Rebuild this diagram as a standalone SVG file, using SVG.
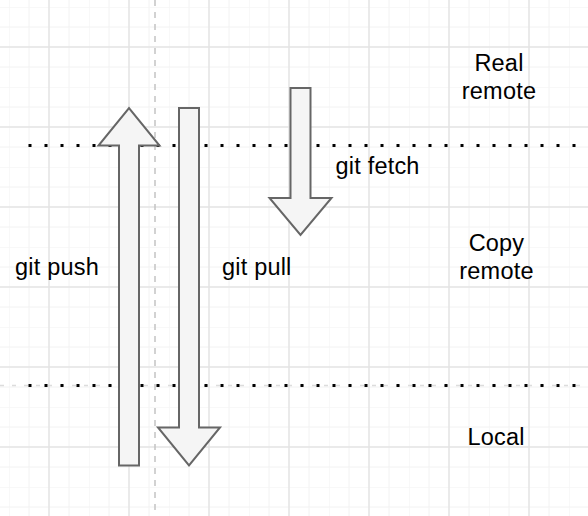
<svg xmlns="http://www.w3.org/2000/svg" width="588" height="516" viewBox="0 0 588 516">
  <style>
    .arrow { fill: #f5f5f5; stroke: #666666; stroke-width: 2; stroke-linejoin: miter; }
    .sep { stroke: #000000; stroke-width: 3; stroke-dasharray: 3 13; fill: none; }
    .lbl { font-family: "Liberation Sans", Arial, Helvetica, sans-serif; font-size: 23.5px; letter-spacing: 0.2px; fill: #000000; }
    .mid { text-anchor: middle; }
  </style>
  <defs>
    <pattern id="grid" patternUnits="userSpaceOnUse" x="9" y="7" width="80" height="80">
      <path d="M0 0V80M20 0V80M60 0V80M0 0H80M0 20H80M0 60H80" stroke="#f2f2f2" stroke-width="1" fill="none"/>
      <path d="M40 0V80M0 40H80" stroke="#e4e4e4" stroke-width="1.5" fill="none"/>
    </pattern>
  </defs>
  <rect width="588" height="516" fill="#ffffff"/>
  <rect width="588" height="516" fill="url(#grid)"/>
  <g id="guides">
    <line x1="155" y1="0" x2="155" y2="516" stroke="#c4c4c4" stroke-width="1.5" stroke-dasharray="6 6"/>
    <line x1="0" y1="385.5" x2="588" y2="385.5" stroke="#dcdcdc" stroke-width="1.5" stroke-dasharray="4 8"/>
  </g>
  <g id="separators">
    <line class="sep" x1="28.5" y1="145.5" x2="580" y2="145.5"/>
    <line class="sep" x1="28.5" y1="385.5" x2="580" y2="385.5"/>
  </g>
  <g id="connectors">
    <g id="push-arrow">
      <polygon class="arrow" points="119,465.5 139,465.5 139,145.5 159.5,145.5 129,108 98.5,145.5 119,145.5"/>
    </g>
    <g id="pull-arrow">
      <polygon class="arrow" points="179,108 199,108 199,427.5 220,427.5 189,465.5 158,427.5 179,427.5"/>
    </g>
    <g id="fetch-arrow">
      <polygon class="arrow" points="290.5,88 310.5,88 310.5,198 331.5,198 300.5,235 269.5,198 290.5,198"/>
    </g>
  </g>
  <g id="real-remote">
    <text class="lbl mid" x="499" y="71">Real</text>
    <text class="lbl mid" x="499" y="98.5">remote</text>
  </g>
  <g id="copy-remote">
    <text class="lbl mid" x="496.5" y="251">Copy</text>
    <text class="lbl mid" x="496.5" y="278.5">remote</text>
  </g>
  <g id="local">
    <text class="lbl mid" x="496" y="445">Local</text>
  </g>
  <g id="label-push">
    <text class="lbl" x="15" y="275">git push</text>
  </g>
  <g id="label-pull">
    <text class="lbl" x="222" y="275">git pull</text>
  </g>
  <g id="label-fetch">
    <text class="lbl" x="335.5" y="174">git fetch</text>
  </g>
</svg>
